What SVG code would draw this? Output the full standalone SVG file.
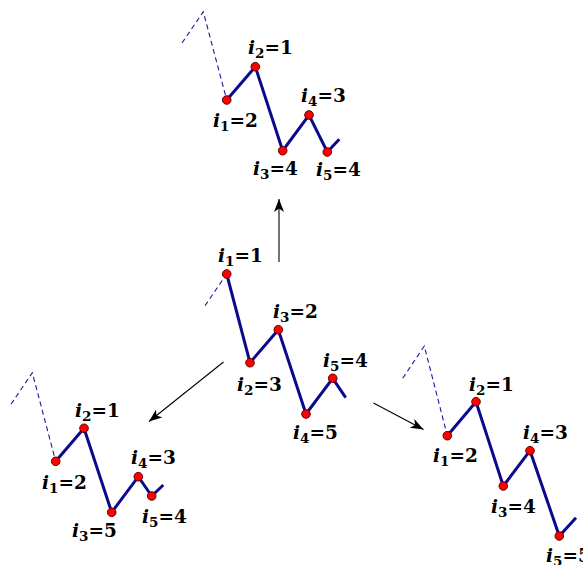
<svg xmlns="http://www.w3.org/2000/svg" width="583" height="565" viewBox="0 0 583 565">
<defs>
<style>
.chain{fill:none;stroke:#0a0a8c;stroke-width:3;stroke-linejoin:miter;stroke-linecap:butt}
.dash{fill:none;stroke:#1a1aa0;stroke-width:1.1;stroke-dasharray:5,3.5}
.arr{fill:none;stroke:#000;stroke-width:1.1}
.nd{fill:#ff0000;stroke:#600000;stroke-width:1}
</style>
<marker id="ah" markerWidth="14" markerHeight="12" refX="13" refY="6" orient="auto" markerUnits="userSpaceOnUse">
<path d="M0,1 L13,6 L0,11 L3.5,6 Z" fill="#000"/>
</marker>
</defs>
<rect width="583" height="565" fill="#fff"/>
<g id="connectors">
<path class="arr" d="M279,262 L279,199" marker-end="url(#ah)"/>
<path class="arr" d="M223.5,362 L149,421.5" marker-end="url(#ah)"/>
<path class="arr" d="M373.5,403 L423.5,429.5" marker-end="url(#ah)"/>
<path class="dash" d="M182,43 L203.3,11.7 L226.7,100"/>
<path class="chain" d="M226.7,100 L255.3,66.7 L282.7,150.7 L309,115 L327.3,152 L339.3,139.3"/>
<path class="dash" d="M205,305.7 L226.7,274"/>
<path class="chain" d="M226.7,274 L250,362.7 L278.3,329.7 L306,414 L332.7,378.3 L345.7,397.7"/>
<path class="dash" d="M11,404.3 L32.3,372.7 L55.7,461.3"/>
<path class="chain" d="M55.7,461.3 L84,428.3 L111.7,512.3 L138.3,476.7 L151.7,496 L163.3,485"/>
<path class="dash" d="M402.7,378.3 L424.3,346 L447.3,435.7"/>
<path class="chain" d="M447.3,435.7 L476,401.7 L503.3,486 L530,450.7 L559.3,536 L576,517.7"/>
</g>
<g font-family="DejaVu Serif, serif" font-weight="bold" font-size="18.5" fill="#000">
<g id="top">
<g id="top-n1"><circle class="nd" cx="226.7" cy="100" r="4.3"/><text x="213" y="127"><tspan font-style="italic">i</tspan><tspan font-size="13.5" dy="4">1</tspan><tspan dy="-4">=2</tspan></text></g>
<g id="top-n2"><circle class="nd" cx="255.3" cy="66.7" r="4.3"/><text x="248" y="54"><tspan font-style="italic">i</tspan><tspan font-size="13.5" dy="4">2</tspan><tspan dy="-4">=1</tspan></text></g>
<g id="top-n3"><circle class="nd" cx="282.7" cy="150.7" r="4.3"/><text x="253" y="175"><tspan font-style="italic">i</tspan><tspan font-size="13.5" dy="4">3</tspan><tspan dy="-4">=4</tspan></text></g>
<g id="top-n4"><circle class="nd" cx="309" cy="115" r="4.3"/><text x="301" y="102"><tspan font-style="italic">i</tspan><tspan font-size="13.5" dy="4">4</tspan><tspan dy="-4">=3</tspan></text></g>
<g id="top-n5"><circle class="nd" cx="327.3" cy="152" r="4.3"/><text x="316" y="176"><tspan font-style="italic">i</tspan><tspan font-size="13.5" dy="4">5</tspan><tspan dy="-4">=4</tspan></text></g>
</g>
<g id="center">
<g id="c-n1"><circle class="nd" cx="226.7" cy="274" r="4.3"/><text x="218" y="262"><tspan font-style="italic">i</tspan><tspan font-size="13.5" dy="4">1</tspan><tspan dy="-4">=1</tspan></text></g>
<g id="c-n2"><circle class="nd" cx="250" cy="362.7" r="4.3"/><text x="237" y="391"><tspan font-style="italic">i</tspan><tspan font-size="13.5" dy="4">2</tspan><tspan dy="-4">=3</tspan></text></g>
<g id="c-n3"><circle class="nd" cx="278.3" cy="329.7" r="4.3"/><text x="273" y="318"><tspan font-style="italic">i</tspan><tspan font-size="13.5" dy="4">3</tspan><tspan dy="-4">=2</tspan></text></g>
<g id="c-n4"><circle class="nd" cx="306" cy="414" r="4.3"/><text x="293" y="439"><tspan font-style="italic">i</tspan><tspan font-size="13.5" dy="4">4</tspan><tspan dy="-4">=5</tspan></text></g>
<g id="c-n5"><circle class="nd" cx="332.7" cy="378.3" r="4.3"/><text x="323" y="367"><tspan font-style="italic">i</tspan><tspan font-size="13.5" dy="4">5</tspan><tspan dy="-4">=4</tspan></text></g>
</g>
<g id="left">
<g id="l-n1"><circle class="nd" cx="55.7" cy="461.3" r="4.3"/><text x="42" y="489"><tspan font-style="italic">i</tspan><tspan font-size="13.5" dy="4">1</tspan><tspan dy="-4">=2</tspan></text></g>
<g id="l-n2"><circle class="nd" cx="84" cy="428.3" r="4.3"/><text x="75" y="417"><tspan font-style="italic">i</tspan><tspan font-size="13.5" dy="4">2</tspan><tspan dy="-4">=1</tspan></text></g>
<g id="l-n3"><circle class="nd" cx="111.7" cy="512.3" r="4.3"/><text x="72" y="537"><tspan font-style="italic">i</tspan><tspan font-size="13.5" dy="4">3</tspan><tspan dy="-4">=5</tspan></text></g>
<g id="l-n4"><circle class="nd" cx="138.3" cy="476.7" r="4.3"/><text x="131" y="464"><tspan font-style="italic">i</tspan><tspan font-size="13.5" dy="4">4</tspan><tspan dy="-4">=3</tspan></text></g>
<g id="l-n5"><circle class="nd" cx="151.7" cy="496" r="4.3"/><text x="142" y="523"><tspan font-style="italic">i</tspan><tspan font-size="13.5" dy="4">5</tspan><tspan dy="-4">=4</tspan></text></g>
</g>
<g id="right">
<g id="r-n1"><circle class="nd" cx="447.3" cy="435.7" r="4.3"/><text x="433" y="462"><tspan font-style="italic">i</tspan><tspan font-size="13.5" dy="4">1</tspan><tspan dy="-4">=2</tspan></text></g>
<g id="r-n2"><circle class="nd" cx="476" cy="401.7" r="4.3"/><text x="469" y="391"><tspan font-style="italic">i</tspan><tspan font-size="13.5" dy="4">2</tspan><tspan dy="-4">=1</tspan></text></g>
<g id="r-n3"><circle class="nd" cx="503.3" cy="486" r="4.3"/><text x="491" y="513"><tspan font-style="italic">i</tspan><tspan font-size="13.5" dy="4">3</tspan><tspan dy="-4">=4</tspan></text></g>
<g id="r-n4"><circle class="nd" cx="530" cy="450.7" r="4.3"/><text x="523" y="439"><tspan font-style="italic">i</tspan><tspan font-size="13.5" dy="4">4</tspan><tspan dy="-4">=3</tspan></text></g>
<g id="r-n5"><circle class="nd" cx="559.3" cy="536" r="4.3"/><text x="546" y="562"><tspan font-style="italic">i</tspan><tspan font-size="13.5" dy="4">5</tspan><tspan dy="-4">=5</tspan></text></g>
</g>
</g>
</svg>
